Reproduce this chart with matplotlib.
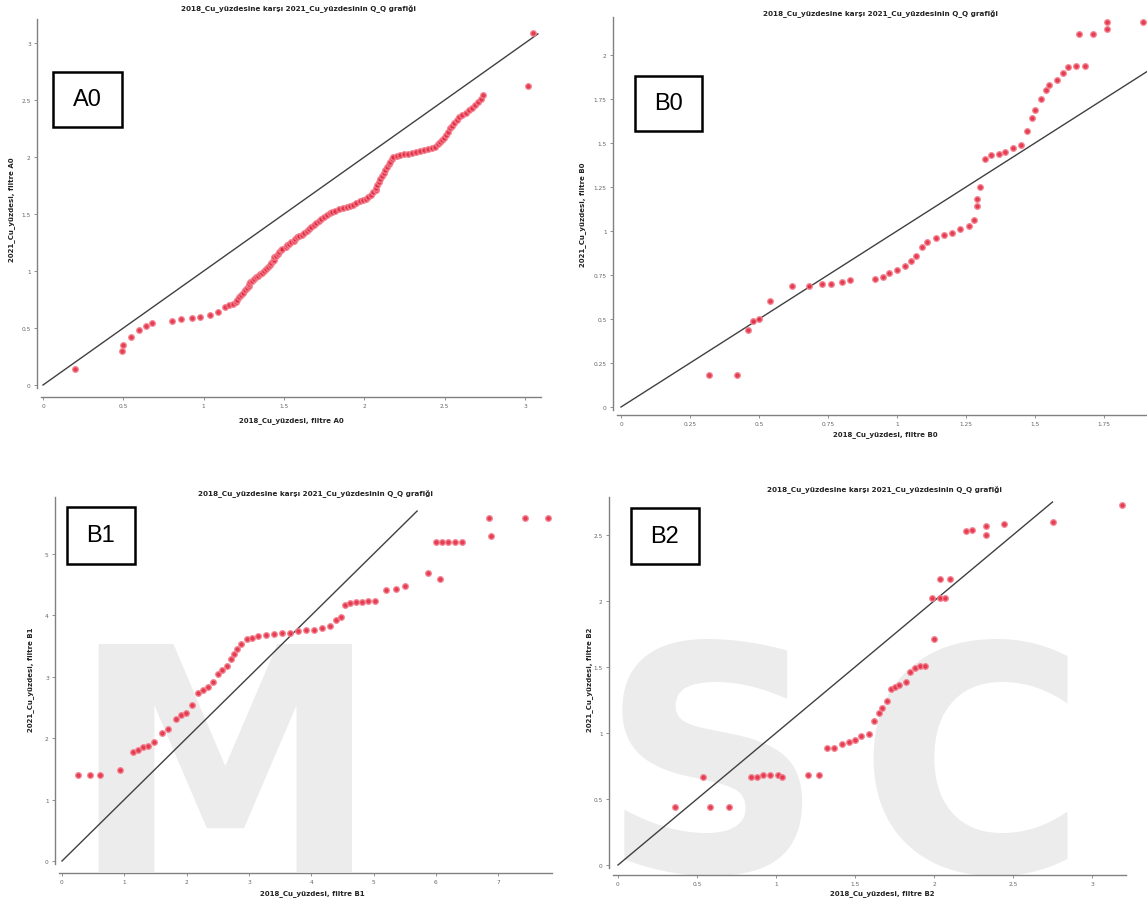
import numpy as np
import matplotlib.pyplot as plt
from matplotlib.patches import Rectangle

W, H = 1147, 904

TITLE = "2018_Cu_yüzdesine karşı 2021_Cu_yüzdesinin Q_Q grafiği"

# Q-Q quantiles, 2018 (x) against 2021 (y), per filter
a0_2018 = [0.20, 0.49, 0.50, 0.55, 0.60, 0.64, 0.68, 0.80, 0.86, 0.93, 0.98, 1.04, 1.09, 1.13, 1.16,
           1.18, 1.20, 1.21, 1.22, 1.23, 1.245, 1.26, 1.27, 1.28, 1.285, 1.29,
           1.30, 1.31, 1.325, 1.34, 1.35, 1.36, 1.375, 1.39, 1.40, 1.41, 1.42, 1.43, 1.435, 1.44,
           1.45, 1.46, 1.47, 1.48, 1.49, 1.51,
           1.52, 1.53, 1.545, 1.56, 1.57, 1.58, 1.595, 1.61, 1.625, 1.64, 1.655, 1.67, 1.685, 1.70,
           1.715, 1.73, 1.75, 1.77, 1.785, 1.80, 1.82, 1.84,
           1.865, 1.89, 1.91, 1.93, 1.95, 1.97, 1.99, 2.01, 2.025, 2.04, 2.055, 2.07,
           2.075, 2.08, 2.09, 2.10, 2.11, 2.12, 2.13, 2.14, 2.15, 2.16, 2.17, 2.18,
           2.20, 2.22, 2.245, 2.27, 2.295, 2.32, 2.345, 2.37, 2.395, 2.42, 2.44, 2.46,
           2.47, 2.48, 2.495, 2.51, 2.52, 2.53, 2.545, 2.56, 2.575, 2.59, 2.61, 2.63, 2.65, 2.67,
           2.69, 2.71, 2.725, 2.74,
           3.02, 3.05]
a0_2021 = [0.14, 0.30, 0.35, 0.42, 0.48, 0.52, 0.54, 0.56, 0.58, 0.59, 0.60, 0.61, 0.64, 0.68, 0.70,
           0.71, 0.73, 0.75, 0.77, 0.79, 0.81, 0.83, 0.85, 0.87, 0.89, 0.90,
           0.91, 0.93, 0.945, 0.96, 0.97, 0.98, 1.00, 1.02, 1.035, 1.05, 1.07, 1.09, 1.10, 1.12,
           1.135, 1.15, 1.165, 1.18, 1.19, 1.21,
           1.225, 1.24, 1.25, 1.26, 1.28, 1.30, 1.31, 1.32, 1.335, 1.35, 1.37, 1.39, 1.405, 1.42,
           1.44, 1.46, 1.475, 1.49, 1.505, 1.52, 1.53, 1.54,
           1.55, 1.56, 1.57, 1.58, 1.595, 1.61, 1.62, 1.63, 1.65, 1.67, 1.69, 1.71,
           1.73, 1.75, 1.78, 1.81, 1.835, 1.86, 1.885, 1.91, 1.935, 1.96, 1.98, 2.00,
           2.01, 2.02, 2.025, 2.03, 2.035, 2.04, 2.05, 2.06, 2.07, 2.08, 2.09, 2.11,
           2.13, 2.15, 2.17, 2.19, 2.22, 2.25, 2.275, 2.30, 2.325, 2.35, 2.37, 2.39, 2.41, 2.43,
           2.455, 2.48, 2.51, 2.54,
           2.62, 3.09]

b0_2018 = [0.32, 0.42, 0.46, 0.48, 0.50, 0.54, 0.62, 0.68, 0.73, 0.76, 0.80, 0.83, 0.92,
           0.95, 0.97, 1.00, 1.03, 1.05, 1.07, 1.09, 1.11, 1.14, 1.17, 1.20, 1.23, 1.26,
           1.28, 1.29, 1.29, 1.30, 1.32, 1.34, 1.37, 1.39, 1.42, 1.45, 1.47, 1.49, 1.50,
           1.52, 1.54, 1.55, 1.58, 1.60, 1.62, 1.65, 1.68, 1.66, 1.71, 1.76, 1.76, 1.89]
b0_2021 = [0.18, 0.18, 0.44, 0.49, 0.50, 0.60, 0.69, 0.69, 0.70, 0.70, 0.71, 0.72, 0.73,
           0.74, 0.76, 0.78, 0.80, 0.83, 0.86, 0.91, 0.94, 0.96, 0.98, 0.99, 1.01, 1.03,
           1.06, 1.14, 1.18, 1.25, 1.41, 1.43, 1.44, 1.45, 1.47, 1.49, 1.57, 1.64, 1.69,
           1.75, 1.80, 1.83, 1.86, 1.90, 1.93, 1.94, 1.94, 2.12, 2.12, 2.15, 2.19, 2.19]

b1_2018 = [0.26, 0.45, 0.61, 0.93, 1.14, 1.22, 1.30, 1.38, 1.48, 1.61, 1.70, 1.83, 1.91,
           1.99, 2.09, 2.18, 2.26, 2.34, 2.42, 2.50, 2.57, 2.65, 2.71, 2.76, 2.81, 2.87,
           2.97, 3.05, 3.15, 3.27, 3.40, 3.53, 3.66, 3.79, 3.92, 4.04, 4.17, 4.30, 4.40,
           4.48, 4.54, 4.62, 4.72, 4.82, 4.91, 5.02, 5.20, 5.36, 5.51, 5.87, 6.07, 6.00,
           6.10, 6.20, 6.31, 6.42, 6.89, 6.85, 7.43, 7.80]
b1_2021 = [1.40, 1.40, 1.40, 1.49, 1.77, 1.81, 1.85, 1.88, 1.93, 2.09, 2.15, 2.31, 2.38,
           2.41, 2.54, 2.73, 2.79, 2.84, 2.92, 3.05, 3.11, 3.18, 3.29, 3.37, 3.45, 3.53,
           3.61, 3.64, 3.66, 3.68, 3.69, 3.71, 3.72, 3.74, 3.76, 3.77, 3.79, 3.82, 3.92,
           3.98, 4.17, 4.21, 4.22, 4.22, 4.24, 4.24, 4.41, 4.43, 4.48, 4.69, 4.59, 5.20,
           5.20, 5.20, 5.20, 5.20, 5.30, 5.59, 5.59, 5.59]

b2_2018 = [0.36, 0.54, 0.58, 0.70, 0.84, 0.88, 0.92, 0.96, 1.01, 1.04, 1.20, 1.27, 1.32,
           1.37, 1.42, 1.46, 1.50, 1.54, 1.59, 1.62, 1.65, 1.67, 1.70, 1.73, 1.75, 1.78,
           1.82, 1.85, 1.88, 1.91, 1.94, 2.00, 1.99, 2.04, 2.07, 2.04, 2.10, 2.20, 2.24,
           2.33, 2.33, 2.44, 2.75, 3.19]
b2_2021 = [0.44, 0.67, 0.44, 0.44, 0.67, 0.67, 0.68, 0.68, 0.68, 0.67, 0.68, 0.68, 0.89,
           0.89, 0.92, 0.93, 0.95, 0.98, 0.99, 1.09, 1.15, 1.19, 1.24, 1.33, 1.35, 1.36,
           1.39, 1.46, 1.49, 1.51, 1.51, 1.71, 2.02, 2.02, 2.02, 2.17, 2.17, 2.53, 2.54,
           2.57, 2.50, 2.58, 2.60, 2.73]

a0_xticks = ["0", "0.5", "1", "1.5", "2", "2.5", "3"]
a0_yticks = ["0", "0.5", "1", "1.5", "2", "2.5", "3"]
b0_xticks = ["0", "0.25", "0.5", "0.75", "1", "1.25", "1.5", "1.75"]
b0_yticks = ["0", "0.25", "0.5", "0.75", "1", "1.25", "1.5", "1.75", "2"]
b1_xticks = ["0", "1", "2", "3", "4", "5", "6", "7"]
b1_yticks = ["0", "1", "2", "3", "4", "5"]
b2_xticks = ["0", "0.5", "1", "1.5", "2", "2.5", "3"]
b2_yticks = ["0", "0.5", "1", "1.5", "2", "2.5"]


def panel(fig, box, origin, scale, xs, ys, xticks, yticks, line_end, name,
          title_xy, xlabel_xy, ylabel_xy, tag_box):
    left, top, right, bottom = box
    ox, oy = origin
    sx, sy = scale
    ax = fig.add_axes([left / W, 1 - bottom / H, (right - left) / W, (bottom - top) / H])
    ax.set_xlim((left - ox) / sx, (right - ox) / sx)
    ax.set_ylim((oy - bottom) / sy, (oy - top) / sy)
    ax.set_facecolor("none")

    for s in ["top", "right"]:
        ax.spines[s].set_visible(False)
    for s in ["left", "bottom"]:
        ax.spines[s].set_color("#808080")
        ax.spines[s].set_linewidth(1.0)
    ax.spines["left"].set_bounds(-3 / sy, (oy - top) / sy)
    ax.spines["bottom"].set_bounds((left + 4 - ox) / sx, (right - ox) / sx)

    xt = [float(t) for t in xticks]
    yt = [float(t) for t in yticks]
    ax.set_xticks(xt, xticks)
    ax.set_yticks(yt, yticks)
    ax.tick_params(length=2.5, width=0.6, colors="#808080", labelsize=4.2,
                   labelcolor="#666666", pad=2)

    ax.plot([0, line_end], [0, line_end], color="#404040", lw=1.0, zorder=2)
    ax.plot(xs, ys, linestyle="none", marker="o", ms=4.0, mfc="#e2283f",
            mec="#f3808f", mew=1.0, alpha=0.9, zorder=3)

    fig.text(title_xy[0] / W, 1 - title_xy[1] / H, TITLE, ha="center", va="center",
             fontsize=5.2, fontweight="bold", color="#222222")
    fig.text(xlabel_xy[0] / W, 1 - xlabel_xy[1] / H, f"2018_Cu_yüzdesi, filtre {name}",
             ha="center", va="center", fontsize=5.0, fontweight="bold", color="#222222")
    fig.text(ylabel_xy[0] / W, 1 - ylabel_xy[1] / H, f"2021_Cu_yüzdesi, filtre {name}",
             ha="center", va="center", rotation=90, fontsize=5.0, fontweight="bold",
             color="#222222")

    bx0, by0, bx1, by1 = tag_box
    fig.add_artist(Rectangle((bx0 / W, 1 - by1 / H), (bx1 - bx0) / W, (by1 - by0) / H,
                             transform=fig.transFigure, facecolor="white",
                             edgecolor="black", lw=1.8, zorder=5))
    fig.text((bx0 + bx1) / 2 / W, 1 - (by0 + by1) / 2 / H, name, ha="center",
             va="center", fontsize=17, family="Liberation Sans", zorder=6)
    return ax


fig = plt.figure(figsize=(W / 100, H / 100), dpi=100)
fig.patch.set_facecolor("white")

# faint logo lettering behind the lower row
for letter, cx in [("M", 225), ("S", 712), ("C", 972)]:
    fig.text(cx / W, 1 - 872 / H, letter, ha="center", va="baseline", fontsize=225,
             fontweight="bold", color="#ececec", zorder=-5)

panel(fig, (37, 20, 541, 398), (43, 386), (160.7, 114), a0_2018, a0_2021,
      a0_xticks, a0_yticks, 3.08, "A0", (298, 8), (291, 421), (12, 210), (53, 73, 122, 128))
panel(fig, (613, 18, 1147, 416), (621, 408), (276, 176), b0_2018, b0_2021,
      b0_xticks, b0_yticks, 2.0, "B0", (880, 13), (885, 435), (583, 215), (635, 77, 702, 132))
panel(fig, (55, 498, 552, 874), (62, 862), (62.3, 61.4), b1_2018, b1_2021,
      b1_xticks, b1_yticks, 5.7, "B1", (315, 493), (312, 894), (31, 680), (67, 508, 135, 565))
panel(fig, (609, 498, 1126, 876), (618, 866), (158, 132), b2_2018, b2_2021,
      b2_xticks, b2_yticks, 2.75, "B2", (884, 489), (882, 894), (590, 680), (631, 509, 699, 565))

fig.savefig("out.png", dpi=100)
